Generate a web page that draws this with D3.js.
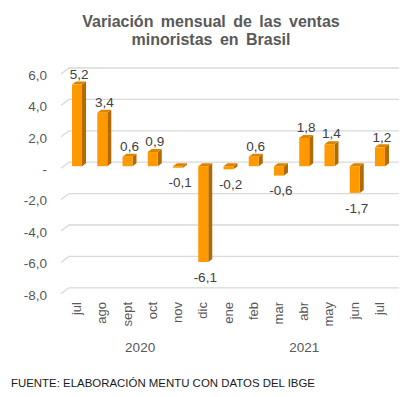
<!DOCTYPE html>
<html>
<head>
<meta charset="utf-8">
<script src="https://cdn.jsdelivr.net/npm/d3@7"></script>
<style>
body { margin: 0; background: #fff; }
text { font-family: "Liberation Sans", Arial, sans-serif; }
</style>
</head>
<body>
<svg id="chart"></svg>
<script>
// datos
var meses = ["jul", "ago", "sept", "oct", "nov", "dic", "ene", "feb", "mar", "abr", "may", "jun", "jul"];
var variacion = [5.2, 3.4, 0.6, 0.9, -0.1, -6.1, -0.2, 0.6, -0.6, 1.8, 1.4, -1.7, 1.2];
var anios = ["2020", "2021"];
var anioDesde = [0, 6];
var anioHasta = [5, 12];
var ticks = [6, 4, 2, 0, -2, -4, -6, -8];

// - parametrage
var width = 419;
var height = 397;
var barWidth = 10;
var depthX = 4;
var depthY = 3;

var svg = d3.select("#chart")
	.attr("width", width)
	.attr("height", height);

// - echelles (plan frontal)
var x = d3.scaleBand()
	.domain(d3.range(meses.length))
	.range([64.4, 392.6]);

var y = d3.scaleLinear()
	.domain([6, -8])
	.range([72, 291.8]);

var fmt = function(d){
	if (d === 0) return "-";
	return d3.format(".1f")(d).replace("\u2212", "-").replace(".", ",");
};

// - titre
svg.append("text")
	.attr("x", 211)
	.attr("y", 26.5)
	.attr("text-anchor", "middle")
	.style("font-size", "16px")
	.style("font-weight", "bold")
	.style("word-spacing", "3px")
	.attr("fill", "#595959")
	.text("Variación mensual de las ventas");

svg.append("text")
	.attr("x", 211)
	.attr("y", 44.5)
	.attr("text-anchor", "middle")
	.style("font-size", "16px")
	.style("font-weight", "bold")
	.style("word-spacing", "3px")
	.attr("fill", "#595959")
	.text("minoristas en Brasil");

// - grille (mur du fond + sol)
var grid = svg.append("g").selectAll("g")
	.data(ticks).enter().append("g");

grid.append("path")
	.attr("d", function(d){
		var gy = y(d) - 4;
		return "M61," + (gy + 6) + "L69," + gy + "L399," + gy;
	})
	.attr("fill", "none")
	.attr("stroke", "#d9d9d9")
	.attr("stroke-width", 1.3);

grid.append("text")
	.attr("x", 47)
	.attr("y", function(d){ return y(d) + 3; })
	.attr("dy", "0.35em")
	.attr("text-anchor", "end")
	.style("font-size", "13.5px")
	.attr("fill", "#595959")
	.text(fmt);

// - barres 3D
var bar = svg.append("g").selectAll("g")
	.data(variacion).enter().append("g")
	.attr("transform", function(d, i){
		return "translate(" + (x(i) + x.bandwidth() / 2 - barWidth / 2) + ",0)";
	});

bar.append("path")
	.attr("d", function(d){
		var t = y(Math.max(d, 0)), b = y(Math.min(d, 0));
		return "M" + barWidth + "," + t + "l" + depthX + "," + (-depthY) +
			"L" + (barWidth + depthX) + "," + (b - depthY) + "L" + barWidth + "," + b + "Z";
	})
	.attr("fill", "#b46a00");

bar.append("path")
	.attr("d", function(d){
		var t = y(Math.max(d, 0));
		return "M0," + t + "l" + depthX + "," + (-depthY) + "l" + barWidth + ",0" +
			"l" + (-depthX) + "," + depthY + "Z";
	})
	.attr("fill", "#dc8400");

bar.append("rect")
	.attr("x", 0)
	.attr("y", function(d){ return y(Math.max(d, 0)); })
	.attr("width", barWidth)
	.attr("height", function(d){ return Math.abs(y(d) - y(0)); })
	.attr("fill", "#ff9900");

bar.append("text")
	.attr("x", barWidth / 2 + 2)
	.attr("y", function(d){ return d >= 0 ? y(d) - 10.5 : y(d) + 15; })
	.attr("dy", "0.35em")
	.attr("text-anchor", "middle")
	.style("font-size", "13.5px")
	.attr("fill", "#404040")
	.text(fmt);

// - axe x
svg.append("g").selectAll("text")
	.data(meses).enter().append("text")
	.attr("transform", function(d, i){
		return "translate(" + (x(i) + x.bandwidth() / 2 + 4) + ",302) rotate(-90)";
	})
	.attr("text-anchor", "end")
	.style("font-size", "13px")
	.attr("fill", "#595959")
	.text(function(d){ return d; });

svg.append("g").selectAll("text")
	.data(anios).enter().append("text")
	.attr("x", function(d, i){
		return (x(anioDesde[i]) + x(anioHasta[i]) + x.bandwidth()) / 2;
	})
	.attr("y", 352)
	.attr("text-anchor", "middle")
	.style("font-size", "13.5px")
	.attr("fill", "#595959")
	.text(function(d){ return d; });

// - source
svg.append("text")
	.attr("x", 11)
	.attr("y", 387)
	.attr("textLength", 304)
	.attr("lengthAdjust", "spacingAndGlyphs")
	.style("font-size", "11.5px")
	.attr("fill", "#1a1a1a")
	.text("FUENTE: ELABORACIÓN MENTU CON DATOS DEL IBGE");
</script>
</body>
</html>
